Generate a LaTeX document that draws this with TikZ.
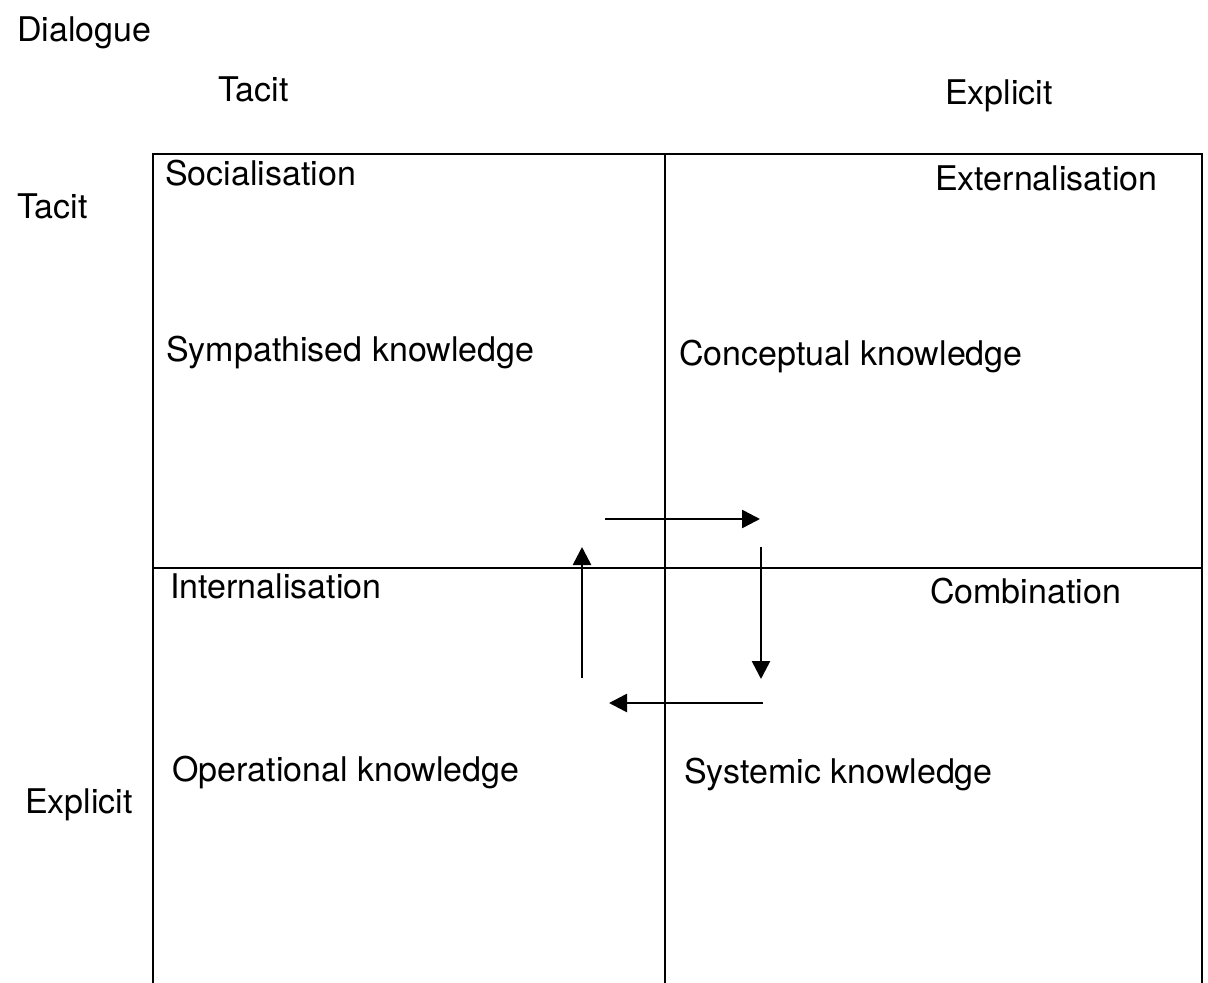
\documentclass[tikz,border=0pt]{standalone}
\usepackage{fontspec}
\setmainfont{TeX Gyre Heros}
\usetikzlibrary{arrows.meta, positioning}

\begin{document}
\begin{tikzpicture}[x=1pt, y=-1pt, >={Triangle[length=18pt,width=18pt]},
	txt/.style={anchor=base west, inner sep=0pt, font=\fontsize{34}{40}\selectfont},
	flow/.style={->, line width=2.6pt}]
		\useasboundingbox (0,0) rectangle (1208,983);
		\node [txt] (dlg) at (17,41) {Dialogue};
		\node [txt] (coltacit) at (218,101) {Tacit};
		\node [txt] (colexpl) at (945,104) {Explicit};
		\node [txt] (rowtacit) at (17,218) {Tacit};
		\node [txt] (rowexpl) at (25,813) {Explicit};
		
		% frame, open at the bottom
		\coordinate (tl) at (153,154);
		\coordinate (tr) at (1202,154);
		\draw [line width=2.2pt] (153,983) -- (tl) -- (tr) -- (1202,983);
		\draw [line width=2.2pt] (153,568) -- (1202,568);
		\draw [line width=2.2pt] (665,154) -- (665,983);
		
		\node [txt] (soc) at (165,185) {Socialisation};
		\node [txt] (ext) at (935,190) {Externalisation};
		\node [txt] (symp) at (166,361) {Sympathised knowledge};
		\node [txt] (conc) at (679,365) {Conceptual knowledge};
		\node [txt] (intl) at (170,598) {Internalisation};
		\node [txt] (comb) at (930,603) {Combination};
		\node [txt] (oper) at (172,781) {Operational knowledge};
		\node [txt] (syst) at (684,783) {Systemic knowledge};
		
		% spiral
		\coordinate (a1) at (605,519);
		\coordinate (a2) at (760,519);
		\coordinate (b1) at (761,547);
		\coordinate (b2) at (761,679);
		\coordinate (c1) at (763,703);
		\coordinate (c2) at (609,703);
		\coordinate (d1) at (582,678);
		\coordinate (d2) at (582,547);
		\draw [flow] (a1) -- (a2);
		\draw [flow] (b1) -- (b2);
		\draw [flow] (c1) -- (c2);
		\draw [flow] (d1) -- (d2);
	\end{tikzpicture}
\end{document}
